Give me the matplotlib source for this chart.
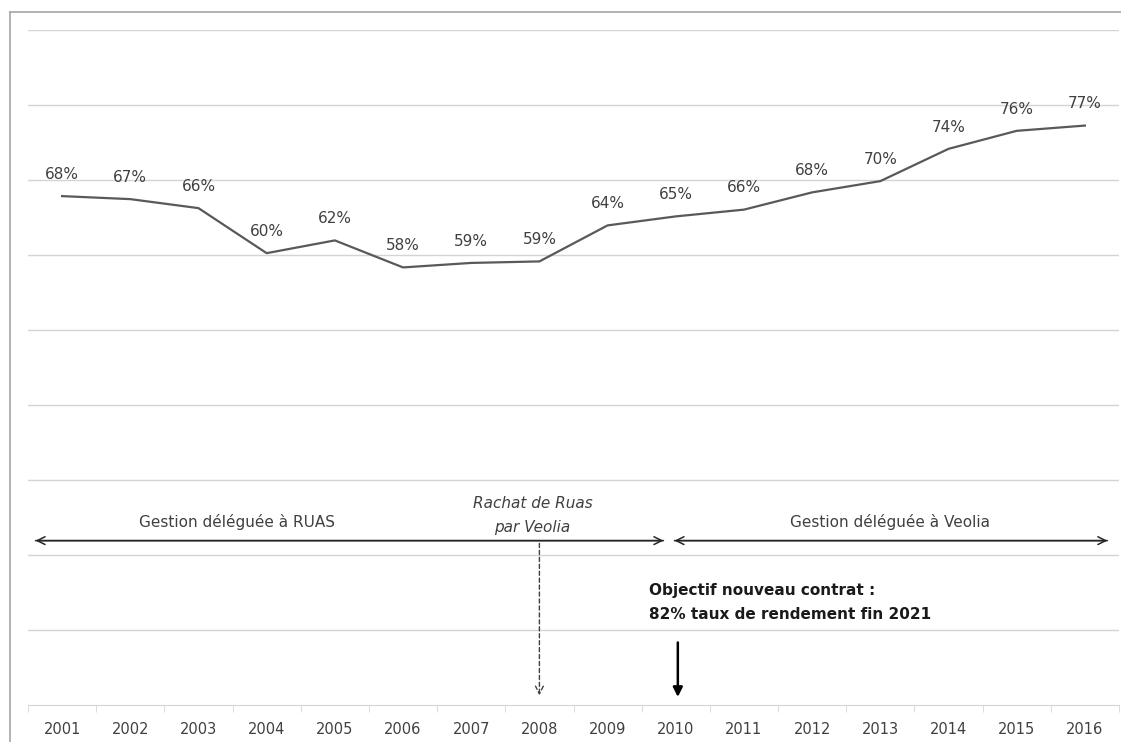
import matplotlib
matplotlib.use('Agg')
import matplotlib.pyplot as plt
from matplotlib.lines import Line2D
import numpy as np

# Données : taux de rendement du réseau
annees = ['2001', '2002', '2003', '2004', '2005', '2006', '2007', '2008',
          '2009', '2010', '2011', '2012', '2013', '2014', '2015', '2016']
rendement = [67.8, 67.4, 66.2, 60.2, 61.9, 58.3, 58.9, 59.1,
             63.9, 65.1, 66.0, 68.3, 69.8, 74.1, 76.5, 77.2]
etiquettes = ['68%', '67%', '66%', '60%', '62%', '58%', '59%', '59%',
              '64%', '65%', '66%', '68%', '70%', '74%', '76%', '77%']

gris_texte = '#404040'

fig = plt.figure(figsize=(11.21, 7.42), dpi=100)
W, H = 1121, 742
ax = fig.add_axes([28 / W, (H - 705) / H, (1119 - 28) / W, (705 - 29.5) / H])

x = np.arange(len(annees))
ax.plot(x, rendement, color='#595959', linewidth=1.6, zorder=3)

# Etiquettes des valeurs
for xi, yi, lab in zip(x, rendement, etiquettes):
    ax.text(xi, yi + 2.9, lab, ha='center', va='center', fontsize=11,
            color=gris_texte)

ax.set_xlim(-0.5, len(annees) - 0.5)
ax.set_ylim(0, 90)
ax.set_yticks(np.arange(10, 91, 10))
ax.yaxis.grid(True, color='#d4d4d4', linewidth=1)
ax.tick_params(axis='y', left=False, labelleft=False)
ax.set_axisbelow(True)

# Axe des x : graduations entre catégories
ax.set_xticks(x)
ax.set_xticklabels(annees, fontsize=10.5, color=gris_texte)
ax.set_xticks(np.arange(-0.5, len(annees), 1), minor=True)
ax.tick_params(axis='x', which='major', length=0, pad=12)
ax.tick_params(axis='x', which='minor', length=5, color='#d4d4d4')
for s in ['top', 'right', 'left']:
    ax.spines[s].set_visible(False)
ax.spines['bottom'].set_color('#d4d4d4')

# Périodes de gestion
fleche = dict(arrowstyle='->', color='#262626', lw=1.1, mutation_scale=14)
ax.annotate('', xy=(-0.43, 21.9), xytext=(8.86, 21.9), arrowprops=fleche)
ax.annotate('', xy=(8.86, 21.9), xytext=(-0.43, 21.9), arrowprops=fleche)
ax.annotate('', xy=(8.94, 21.9), xytext=(15.37, 21.9), arrowprops=fleche)
ax.annotate('', xy=(15.37, 21.9), xytext=(8.94, 21.9), arrowprops=fleche)

ax.text(2.57, 24.4, 'Gestion déléguée à RUAS', ha='center', va='center',
        fontsize=11, color=gris_texte)
ax.text(12.14, 24.4, 'Gestion déléguée à Veolia', ha='center', va='center',
        fontsize=11, color=gris_texte)
ax.text(6.9, 26.9, 'Rachat de Ruas', ha='center', va='center',
        fontsize=11, color=gris_texte, style='italic')
ax.text(6.9, 23.6, 'par Veolia', ha='center', va='center',
        fontsize=11, color=gris_texte, style='italic')

# Rachat en 2008
ax.annotate('', xy=(7, 0.9), xytext=(7, 21.9),
            arrowprops=dict(arrowstyle='->', color='#404040', lw=1,
                            linestyle=(0, (3, 2)), mutation_scale=14))

# Objectif nouveau contrat
ax.annotate('', xy=(9.03, 0.7), xytext=(9.03, 8.7),
            arrowprops=dict(arrowstyle='-|>', color='black', lw=1.8,
                            mutation_scale=14))
ax.text(8.6, 15.3, 'Objectif nouveau contrat :', ha='left', va='center',
        fontsize=11, fontweight='bold', color='#1a1a1a')
ax.text(8.6, 12.0, '82% taux de rendement fin 2021', ha='left',
        va='center', fontsize=11, fontweight='bold', color='#1a1a1a')

# Cadre extérieur
fig.add_artist(Line2D([10 / W, 10 / W], [0, (H - 12) / H], color='#a6a6a6',
                      lw=1.2, transform=fig.transFigure))
fig.add_artist(Line2D([10 / W, 1], [(H - 12) / H, (H - 12) / H],
                      color='#a6a6a6', lw=1.2, transform=fig.transFigure))

fig.savefig('out.png', dpi=100)
